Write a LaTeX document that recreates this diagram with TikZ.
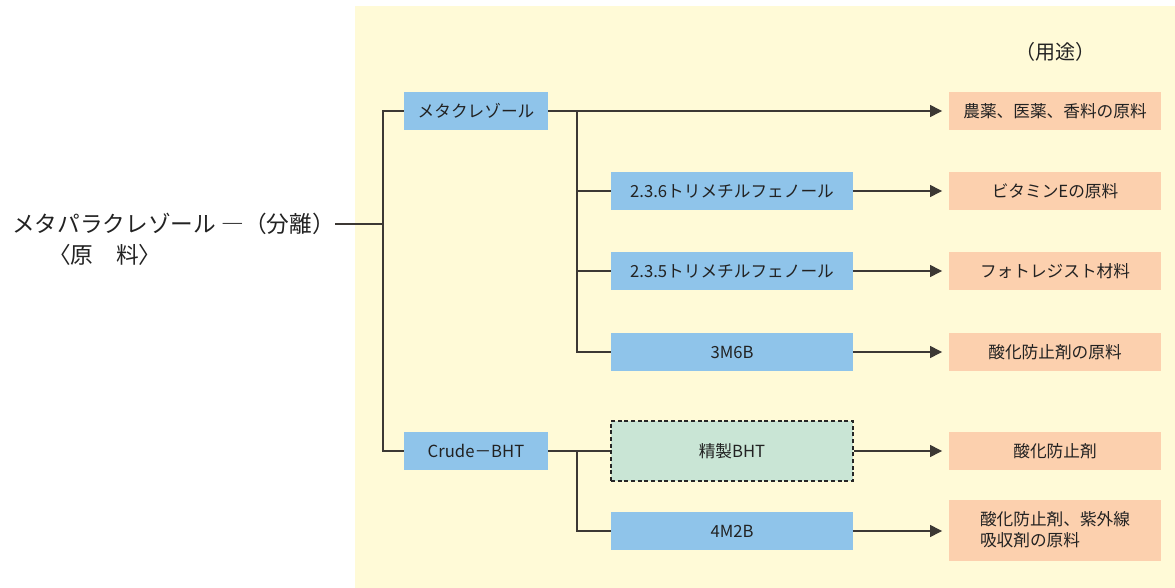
\documentclass[tikz,border=0pt]{standalone}
\usepackage{fontspec}
\setmainfont{Noto Sans CJK JP}
\usepackage{tikz}
\usetikzlibrary{arrows.meta}

\definecolor{bgyellow}{RGB}{255,250,215}
\definecolor{boxblue}{RGB}{143,196,234}
\definecolor{boxpeach}{RGB}{252,208,174}
\definecolor{boxgreen}{RGB}{201,229,213}
\definecolor{linegray}{RGB}{60,56,52}
\definecolor{textgray}{RGB}{34,34,34}

\begin{document}
\begin{tikzpicture}[x=0.75pt,y=0.75pt,yscale=-1,xscale=1,
  boxtext/.style={text=textgray,inner sep=0pt,font=\fontsize{12.5pt}{16pt}\selectfont},
  bluebox/.style={boxtext,fill=boxblue,minimum height=28.5pt},
  usebox/.style={boxtext,fill=boxpeach,minimum width=159pt,minimum height=28.5pt},
  bhtbox/.style={boxtext,fill=boxgreen,draw=black!85,line width=1pt,dash pattern=on 3pt off 2pt,minimum width=181.5pt,minimum height=45pt},
  link/.style={draw=linegray,line width=0.9pt},
  arr/.style={link,-{Triangle[length=9pt,width=9pt]},shorten >=5pt}]

\useasboundingbox (0,0) rectangle (1175,588);
\fill[bgyellow] (355,6) rectangle (1175,588);

\node[text=textgray,inner sep=0pt,anchor=east,font=\fontsize{17pt}{21pt}\selectfont] (src) at (335,224) {メタパラクレゾール\ ―（分離）};
\node[text=textgray,inner sep=0pt,anchor=west,font=\fontsize{17pt}{21pt}\selectfont] (raw) at (48,255) {〈原\hspace{1em}料〉};
\node[text=textgray,inner sep=0pt,font=\fontsize{15pt}{19pt}\selectfont] (title) at (1055,52) {（用途）};

\node[bluebox,minimum width=108pt] (mc) at (476,111) {メタクレゾール};
\node[bluebox,minimum width=108pt] (crude) at (476,451) {Crude－BHT};
\node[bluebox,minimum width=181.5pt] (tm6) at (732,191) {2.3.6トリメチルフェノール};
\node[bluebox,minimum width=181.5pt] (tm5) at (732,271) {2.3.5トリメチルフェノール};
\node[bluebox,minimum width=181.5pt] (mb6) at (732,352) {3M6B};
\node[bhtbox] (bht) at (732,451) {精製BHT};
\node[bluebox,minimum width=181.5pt] (mb2) at (732,531) {4M2B};

\node[usebox] (u1) at (1055,111) {農薬、医薬、香料の原料};
\node[usebox] (u2) at (1055,191) {ビタミンEの原料};
\node[usebox] (u3) at (1055,271) {フォトレジスト材料};
\node[usebox] (u4) at (1055,352) {酸化防止剤の原料};
\node[usebox] (u5) at (1055,451) {酸化防止剤};
\node[usebox,minimum height=45.75pt,align=left] (u6) at (1055,530) {酸化防止剤、紫外線\\吸収剤の原料};

\coordinate (j0) at (383,224);
\coordinate (ja) at (577,111);
\coordinate (jb) at (577,451);

\draw[link] (src.east) -- (j0);
\draw[link] (mc.west) -| (j0) |- (crude.west);
\draw[link] (ja) |- (mb6.west);
\draw[link] (tm6.west) -- (tm6.west -| ja);
\draw[link] (tm5.west) -- (tm5.west -| ja);
\draw[link] (crude.east) -- (bht.west);
\draw[link] (jb) |- (mb2.west);

\draw[arr] (mc.east) -- (u1.west);
\draw[arr] (tm6.east) -- (u2.west);
\draw[arr] (tm5.east) -- (u3.west);
\draw[arr] (mb6.east) -- (u4.west);
\draw[arr] (bht.east) -- (u5.west);
\draw[arr] (mb2.east) -- (u6.west |- mb2.east);

\end{tikzpicture}
\end{document}
